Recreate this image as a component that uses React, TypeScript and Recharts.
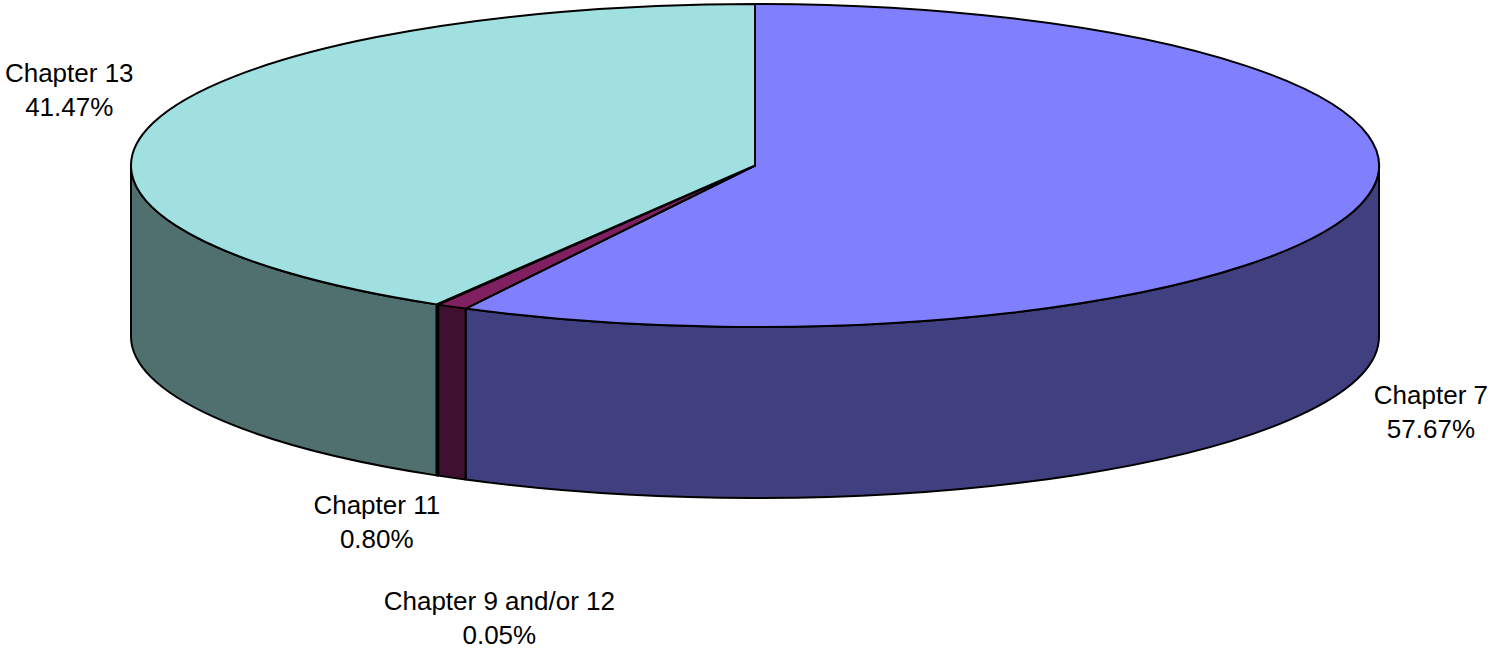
import React from 'react';
import { PieChart, Pie } from 'recharts';

// ---- data ----
const categories = ['Chapter 7', 'Chapter 11', 'Chapter 9 and/or 12', 'Chapter 13'];
const shares = [57.67, 0.8, 0.05, 41.47];
const topColors = ['#8080FF', '#802060', '#FFFFC0', '#A0E0E0'];
const sideColors = ['#404080', '#401030', '#808060', '#507070'];
// label nudges relative to the slice's rim point (label placement, not marks)
const labelNudge: [number, number][] = [
  [70, 200],
  [-75, 207],
  [62, 305],
  [-84, -41],
];

const data = categories.map((name, i) => ({ name, value: shares[i] }));

const RY_RATIO = 161.5 / 624;
const DEPTH = 171;
const RAD = Math.PI / 180;

const renderSlice = (props: any) => {
  const { cx, cy, outerRadius, startAngle, endAngle, index, midAngle } = props;
  const rx = outerRadius;
  const ry = outerRadius * RY_RATIO;
  const s = Math.min(startAngle, endAngle);
  const e = Math.max(startAngle, endAngle);
  const P = (a: number, dy = 0) => [cx + rx * Math.cos(a * RAD), cy - ry * Math.sin(a * RAD) + dy];

  const sides: string[] = [];
  for (let k = -2; k <= 1; k++) {
    const lo = Math.max(s, 180 + 360 * k);
    const hi = Math.min(e, 360 + 360 * k);
    if (hi > lo) {
      const [ax, ay] = P(lo);
      const [bx, by] = P(hi);
      const [cx2, cy2] = P(hi, DEPTH);
      const [dx2, dy2] = P(lo, DEPTH);
      sides.push(
        `M${ax},${ay} A${rx},${ry} 0 0 0 ${bx},${by} L${cx2},${cy2} A${rx},${ry} 0 0 1 ${dx2},${dy2} Z`
      );
    }
  }
  const [sx, sy] = P(s);
  const [ex, ey] = P(e);
  const large = e - s > 180 ? 1 : 0;
  const top = `M${cx},${cy} L${sx},${sy} A${rx},${ry} 0 ${large} 0 ${ex},${ey} Z`;

  const mid = midAngle ?? (s + e) / 2;
  const [mx, my] = P(mid);
  const lx = mx + labelNudge[index][0];
  const ly = my + labelNudge[index][1];

  return (
    <g key={`slice-${index}`}>
      {sides.map((d, j) => (
        <path key={j} d={d} fill={sideColors[index]} stroke="#000" strokeWidth={2} strokeLinejoin="round" />
      ))}
      <path d={top} fill={topColors[index]} stroke="#000" strokeWidth={2} strokeLinejoin="round" />
      <text
        x={lx}
        y={ly}
        textAnchor="middle"
        fontFamily="'Liberation Sans', Arial, sans-serif"
        fontSize={26}
        fill="#000"
      >
        <tspan x={lx} dy={0}>{categories[index]}</tspan>
        <tspan x={lx} dy={34}>{`${shares[index].toFixed(2)}%`}</tspan>
      </text>
    </g>
  );
};

export default function App() {
  return (
    <div style={{ position: 'absolute', left: 0, top: 0, width: 1497, height: 649, background: '#fff' }}>
      <PieChart width={1497} height={649} margin={{ top: 0, right: 0, bottom: 0, left: 0 }}>
        <Pie
          data={data}
          dataKey="value"
          nameKey="name"
          cx={755}
          cy={165.5}
          outerRadius={624}
          startAngle={90}
          endAngle={-270}
          fill="transparent"
          stroke="none"
          label={renderSlice}
          labelLine={false}
          isAnimationActive={false}
        />
      </PieChart>
    </div>
  );
}
